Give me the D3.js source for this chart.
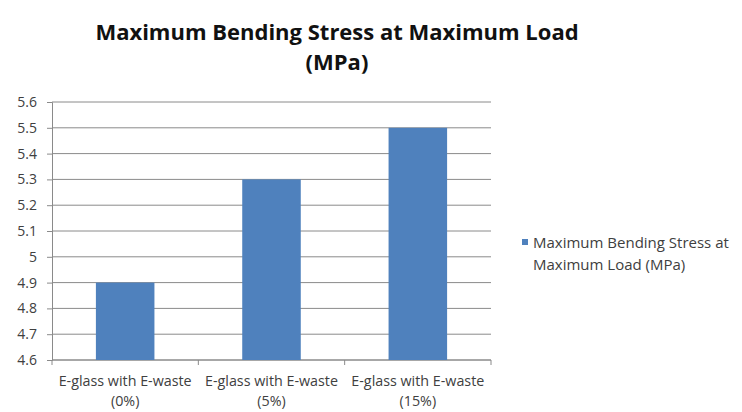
<!DOCTYPE html>
<html>
<head>
<meta charset="utf-8">
<script src="https://cdn.jsdelivr.net/npm/d3@7"></script>
<style>
  html, body { margin: 0; padding: 0; background: #fff; }
  svg { display: block; }
  text { font-family: "Open Sans", Lato, sans-serif; }
</style>
</head>
<body>
<svg id="chart" width="742" height="412"></svg>
<script>
// Chart data
const categories = ["E-glass with E-waste (0%)", "E-glass with E-waste (5%)", "E-glass with E-waste (15%)"];
const categoryLines = [["E-glass with E-waste", "(0%)"], ["E-glass with E-waste", "(5%)"], ["E-glass with E-waste", "(15%)"]];
const values = [4.9, 5.3, 5.5];
const yTicks = [4.6, 4.7, 4.8, 4.9, 5.0, 5.1, 5.2, 5.3, 5.4, 5.5, 5.6];
const seriesName = "Maximum Bending Stress at Maximum Load (MPa)";
const seriesLines = ["Maximum Bending Stress at", "Maximum Load (MPa)"];
const titleLines = ["Maximum Bending Stress at Maximum Load", "(MPa)"];

const svg = d3.select("#chart");
const plot = { left: 52, right: 491, top: 102, bottom: 360 };

const x = d3.scaleBand().domain(categories).range([plot.left, plot.right]).paddingInner(0.6).paddingOuter(0.3);
const y = d3.scaleLinear().domain([4.6, 5.6]).range([plot.bottom, plot.top]);

// Title
svg.append("text")
  .attr("text-anchor", "middle")
  .attr("font-weight", "bold")
  .attr("font-size", 22)
  .attr("fill", "#111")
  .selectAll("tspan").data(titleLines).join("tspan")
  .attr("x", 337)
  .attr("y", (d, i) => 40 + i * 30)
  .text(d => d);

// Gridlines
svg.append("g").selectAll("line").data(yTicks).join("line")
  .attr("x1", plot.left).attr("x2", plot.right)
  .attr("y1", d => y(d)).attr("y2", d => y(d))
  .attr("stroke", "#8a8a8a").attr("stroke-width", 1);

// Y axis
const yAxis = svg.append("g")
  .attr("transform", `translate(${plot.left},0)`)
  .call(d3.axisLeft(y).tickValues(yTicks).tickSize(5).tickPadding(10)
    .tickFormat(d => d3.format("")(+d.toFixed(1))));
yAxis.select(".domain").attr("stroke", "#8a8a8a");
yAxis.selectAll(".tick line").attr("stroke", "#8a8a8a");
yAxis.selectAll(".tick text").attr("font-size", 14).attr("fill", "#404040")
  .attr("font-family", "'Open Sans', Lato, sans-serif");

// X axis line and category dividers
svg.append("line")
  .attr("x1", plot.left).attr("x2", plot.right)
  .attr("y1", plot.bottom).attr("y2", plot.bottom)
  .attr("stroke", "#8a8a8a");
svg.append("g").selectAll("line").data(d3.range(categories.length + 1)).join("line")
  .attr("x1", i => plot.left + i * x.step())
  .attr("x2", i => plot.left + i * x.step())
  .attr("y1", plot.bottom).attr("y2", plot.bottom + 5)
  .attr("stroke", "#8a8a8a");

// Bars
svg.append("g").selectAll("rect").data(values).join("rect")
  .attr("x", (d, i) => x(categories[i]))
  .attr("width", x.bandwidth())
  .attr("y", d => y(d))
  .attr("height", d => y(4.6) - y(d))
  .attr("fill", "#4f81bd");

// Category labels
const labels = svg.append("g").selectAll("text").data(categoryLines).join("text")
  .attr("text-anchor", "middle")
  .attr("font-size", 14.3)
  .attr("fill", "#404040");
labels.selectAll("tspan").data((d, i) => d.map(t => ({ t, i }))).join("tspan")
  .attr("x", d => x(categories[d.i]) + x.bandwidth() / 2)
  .attr("y", (d, j) => 386 + j * 19.6)
  .text(d => d.t);

// Legend
const legend = svg.append("g");
legend.append("rect")
  .attr("x", 522).attr("y", 239).attr("width", 6).attr("height", 6)
  .attr("fill", "#4f81bd");
legend.append("text")
  .attr("font-size", 15)
  .attr("fill", "#404040")
  .selectAll("tspan").data(seriesLines).join("tspan")
  .attr("x", 533)
  .attr("y", (d, i) => 248 + i * 22)
  .text(d => d);
</script>
</body>
</html>
